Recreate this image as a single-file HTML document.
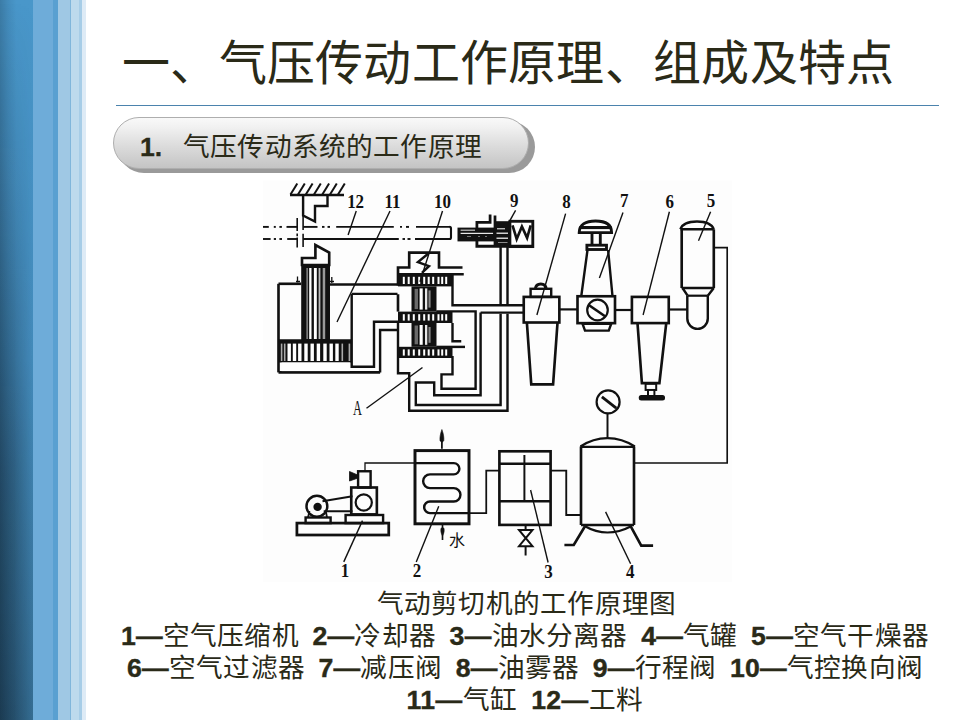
<!DOCTYPE html>
<html lang="zh-CN">
<head>
<meta charset="utf-8">
<style>
html,body{margin:0;padding:0;}
body{width:960px;height:720px;overflow:hidden;background:#fff;position:relative;font-family:"Liberation Sans",sans-serif;}
.s{position:absolute;top:0;height:720px;}
#s0{left:0;width:33px;background:linear-gradient(to bottom,#4997ca 0%,#4690c2 50%,#38739a 100%);}
#s0d{left:0;width:33px;background:linear-gradient(to right,rgba(5,15,25,.2) 0%,rgba(5,15,25,.08) 25%,rgba(5,15,25,0) 50%);}
#s0e{left:0;width:33px;background:linear-gradient(to right,rgba(5,15,25,.45) 0%,rgba(5,15,25,.35) 45%,rgba(5,15,25,.06) 100%);-webkit-mask-image:linear-gradient(to bottom,rgba(0,0,0,0),rgba(0,0,0,.3) 25%,rgba(0,0,0,.7) 50%,rgba(0,0,0,.9) 65%,#000);}
#s1{left:33px;width:20px;background:#6eacd9;}
#s2{left:53px;width:5px;background:#59a0d1;}
#s3{left:58px;width:12px;background:#9fc8e4;}
#s4{left:70px;width:1px;background:#80b6db;}
#s5{left:71px;width:8px;background:#bddaed;}
#s6{left:79px;width:3px;background:#a7cde7;}
#s7{left:82px;width:4px;background:#deebf6;}
#title{position:absolute;left:122px;top:34px;font-size:48px;line-height:60px;color:#2a2a18;white-space:nowrap;letter-spacing:0.27px;}
#rule{position:absolute;left:116px;top:105px;width:823px;height:1px;background:#4b83ad;}
#pillsh{position:absolute;left:118.3px;top:120.5px;width:416.4px;height:52.4px;border-radius:26.2px;background:#9a9a9a;}
#pill{position:absolute;left:113px;top:116.5px;width:414.4px;height:50.4px;border-radius:26.2px;border:1px solid #aeaeae;background:linear-gradient(to bottom,#f9f9f9 0%,#f0f0f0 20%,#dcdcdc 55%,#c4c4c4 100%);}
#ptxt{position:absolute;left:140px;top:129px;font-size:26.67px;line-height:36px;color:#2a2a18;white-space:nowrap;}
#ptxt2{position:absolute;left:183px;top:129px;letter-spacing:0.18px;font-size:26.67px;line-height:36px;color:#2a2a18;white-space:nowrap;}
#ptxt b{font-weight:bold;-webkit-text-stroke:0.3px #2a2a18;}
#diag{position:absolute;left:0;top:0;}
.cap{position:absolute;left:25px;width:1000px;text-align:center;white-space:nowrap;color:#2a2a18;font-size:26.67px;line-height:33px;letter-spacing:0.22px;}
.cap b{font-weight:bold;-webkit-text-stroke:0.4px #2a2a18;}
</style>
</head>
<body>
<div class="s" id="s0"></div><div class="s" id="s0d"></div><div class="s" id="s0e"></div>
<div class="s" id="s1"></div><div class="s" id="s2"></div><div class="s" id="s3"></div><div class="s" id="s4"></div><div class="s" id="s5"></div><div class="s" id="s6"></div><div class="s" id="s7"></div>
<div id="title">一、气压传动工作原理、组成及特点</div>
<div id="rule"></div>
<div id="pillsh"></div><div id="pill"></div>
<div id="ptxt"><b>1.</b></div><div id="ptxt2">气压传动系统的工作原理</div>
<svg id="diag" width="960" height="720" viewBox="0 0 960 720">
<g fill="none" stroke="#111" stroke-linejoin="miter" stroke-linecap="butt">
<rect x="263" y="180.5" width="469" height="401.5" fill="#fdfdfd" stroke="none"/>
<path d="M290,195H344" stroke-width="2.42" />
<path d="M290.5,194.5L297.3,183.5" stroke-width="2.0"/>
<path d="M298,194.5L304.8,183.5" stroke-width="2.0"/>
<path d="M305.8,194.5L312.6,183.5" stroke-width="2.0"/>
<path d="M314,194.5L320.8,183.5" stroke-width="2.0"/>
<path d="M322.3,194.5L329.1,183.5" stroke-width="2.0"/>
<path d="M330,194.5L336.8,183.5" stroke-width="2.0"/>
<path d="M338,194.5L344.8,183.5" stroke-width="2.0"/>
<path d="M303.1,195V215.5L315,221.5V206H327.5V195" stroke-width="2.42" />
<path d="M263,226.9L268.8,226.9" stroke-width="1.9"/>
<path d="M273.8,226.9L275.8,226.9" stroke-width="1.9"/>
<path d="M279.4,226.9L281.9,226.9" stroke-width="1.9"/>
<path d="M286.5,226.9L297,226.9" stroke-width="1.9"/>
<path d="M303.1,226.9L317.5,226.9" stroke-width="1.9"/>
<path d="M322,226.9L324.5,226.9" stroke-width="1.9"/>
<path d="M327.5,226.9L330,226.9" stroke-width="1.9"/>
<path d="M336.2,226.9L393.8,226.9" stroke-width="1.9"/>
<path d="M400,226.9L402,226.9" stroke-width="1.9"/>
<path d="M406,226.9L409,226.9" stroke-width="1.9"/>
<path d="M416,226.9L450,226.9" stroke-width="1.9"/>
<path d="M263,239L270.6,239" stroke-width="1.9"/>
<path d="M273.8,239L276,239" stroke-width="1.9"/>
<path d="M279.4,239L282,239" stroke-width="1.9"/>
<path d="M287.2,239L297.2,239" stroke-width="1.9"/>
<path d="M303.1,239L398.8,239" stroke-width="1.9"/>
<path d="M402.5,239L405,239" stroke-width="1.9"/>
<path d="M407.5,239L410.5,239" stroke-width="1.9"/>
<path d="M415,239L450,239" stroke-width="1.9"/>
<path d="M449.5,226.9Q451,226.9 451,228.4V237.5Q451,239 449.5,239" stroke-width="2.09" />
<path d="M297.2,218L297.2,231" stroke-width="1.6"/>
<path d="M297.2,233.4L297.2,236.2" stroke-width="1.6"/>
<path d="M297.2,237.5L297.2,247.5" stroke-width="1.6"/>
<path d="M303.1,216L303.1,230" stroke-width="1.6"/>
<path d="M303.1,233.8L303.1,246.9" stroke-width="1.6"/>
<path d="M302,265V258H315.4V245L329.2,252.5V265Z" stroke-width="2.64" />
<rect x="301.2" y="265" width="28.8" height="76.5" fill="#111" stroke="none"/>
<rect x="306.4" y="268" width="1.5" height="71" fill="#888" stroke="none"/>
<rect x="309.2" y="268" width="2.3" height="71" fill="#fff" stroke="none"/>
<rect x="313.9" y="268" width="2.9" height="71" fill="#fff" stroke="none"/>
<rect x="318.6" y="268" width="1.8" height="71" fill="#bbb" stroke="none"/>
<rect x="322.7" y="268" width="2.5" height="71" fill="#999" stroke="none"/>
<path d="M278.5,283.8H301.2" stroke-width="2.64" />
<path d="M278.5,283.8V372.4" stroke-width="2.64" />
<path d="M330,284.5H398" stroke-width="2.42" />
<path d="M351.7,293.9H397.5" stroke-width="2.42" />
<path d="M351.7,293.9V366.8H374V321.7H398" stroke-width="2.42" />
<path d="M380.1,372.4V330H398" stroke-width="2.42" />
<path d="M278.5,372.4H380.1" stroke-width="2.86" />
<path d="M297.5,276.5V282.5M300,281.5H296" stroke-width="1.3" />
<path d="M331.8,277V283M330,281.5H334" stroke-width="1.3" />
<path d="M278.5,340.7H352" stroke-width="2.86" />
<rect x="279" y="341.2" width="72.5" height="21.3" fill="#111" stroke="none"/>
<rect x="280.8" y="343.6" width="1.6" height="17.4" fill="#aaa" stroke="none"/>
<rect x="283.9" y="343.6" width="1.6" height="17.4" fill="#aaa" stroke="none"/>
<rect x="287.5" y="343.6" width="3.4" height="17.4" fill="#fff" stroke="none"/>
<rect x="292.8" y="343.6" width="3.4" height="17.4" fill="#fff" stroke="none"/>
<rect x="298.1" y="343.6" width="3.4" height="17.4" fill="#fff" stroke="none"/>
<rect x="304.3" y="343.6" width="3.4" height="17.4" fill="#fff" stroke="none"/>
<rect x="310.5" y="343.6" width="3.4" height="17.4" fill="#fff" stroke="none"/>
<rect x="316.7" y="343.6" width="3.4" height="17.4" fill="#fff" stroke="none"/>
<rect x="323.3" y="343.6" width="3.4" height="17.4" fill="#fff" stroke="none"/>
<rect x="329.5" y="343.6" width="3.4" height="17.4" fill="#fff" stroke="none"/>
<rect x="335.3" y="343.6" width="3.4" height="17.4" fill="#fff" stroke="none"/>
<rect x="341.5" y="343.6" width="1.6" height="17.4" fill="#aaa" stroke="none"/>
<rect x="348.59999999999997" y="343.6" width="1.6" height="17.4" fill="#aaa" stroke="none"/>
<rect x="281.5" y="362.5" width="68.5" height="8.6" fill="#fff" stroke="none"/>
<path d="M398,285.5V267.5H409.2V252.6H439V267.5H462.5" stroke-width="2.64" />
<path d="M398.75,274.25H463.75" stroke-width="2.42" />
<path d="M428.1,253.7L417.9,262.1L429,266.2L421.9,272.8" stroke-width="2.42" />
<rect x="398" y="274.2" width="54.5" height="12.199999999999989" fill="#111" stroke="none"/>
<rect x="402.8" y="276.8" width="2.0" height="7.199999999999989" fill="#fff" stroke="none"/>
<rect x="407.7" y="276.8" width="2.0" height="7.199999999999989" fill="#fff" stroke="none"/>
<rect x="412.8" y="276.8" width="2.0" height="7.199999999999989" fill="#fff" stroke="none"/>
<rect x="418.2" y="276.8" width="2.0" height="7.199999999999989" fill="#fff" stroke="none"/>
<rect x="423.2" y="276.8" width="2.0" height="7.199999999999989" fill="#fff" stroke="none"/>
<rect x="427.7" y="276.8" width="2.0" height="7.199999999999989" fill="#fff" stroke="none"/>
<rect x="432.2" y="276.8" width="2.0" height="7.199999999999989" fill="#fff" stroke="none"/>
<rect x="437.5" y="276.8" width="2.0" height="7.199999999999989" fill="#fff" stroke="none"/>
<rect x="441.2" y="276.8" width="2.0" height="7.199999999999989" fill="#fff" stroke="none"/>
<rect x="445.2" y="276.8" width="2.0" height="7.199999999999989" fill="#fff" stroke="none"/>
<rect x="398" y="311.6" width="54.5" height="11.399999999999977" fill="#111" stroke="none"/>
<rect x="402.8" y="314.20000000000005" width="2.0" height="6.399999999999977" fill="#fff" stroke="none"/>
<rect x="407.7" y="314.20000000000005" width="2.0" height="6.399999999999977" fill="#fff" stroke="none"/>
<rect x="412.8" y="314.20000000000005" width="2.0" height="6.399999999999977" fill="#fff" stroke="none"/>
<rect x="418.2" y="314.20000000000005" width="2.0" height="6.399999999999977" fill="#fff" stroke="none"/>
<rect x="423.2" y="314.20000000000005" width="2.0" height="6.399999999999977" fill="#fff" stroke="none"/>
<rect x="427.7" y="314.20000000000005" width="2.0" height="6.399999999999977" fill="#fff" stroke="none"/>
<rect x="432.2" y="314.20000000000005" width="2.0" height="6.399999999999977" fill="#fff" stroke="none"/>
<rect x="437.5" y="314.20000000000005" width="2.0" height="6.399999999999977" fill="#fff" stroke="none"/>
<rect x="441.2" y="314.20000000000005" width="2.0" height="6.399999999999977" fill="#fff" stroke="none"/>
<rect x="445.2" y="314.20000000000005" width="2.0" height="6.399999999999977" fill="#fff" stroke="none"/>
<rect x="398" y="346.8" width="54.5" height="11.199999999999989" fill="#111" stroke="none"/>
<rect x="402.8" y="349.40000000000003" width="2.0" height="6.199999999999989" fill="#fff" stroke="none"/>
<rect x="407.7" y="349.40000000000003" width="2.0" height="6.199999999999989" fill="#fff" stroke="none"/>
<rect x="412.8" y="349.40000000000003" width="2.0" height="6.199999999999989" fill="#fff" stroke="none"/>
<rect x="418.2" y="349.40000000000003" width="2.0" height="6.199999999999989" fill="#fff" stroke="none"/>
<rect x="423.2" y="349.40000000000003" width="2.0" height="6.199999999999989" fill="#fff" stroke="none"/>
<rect x="427.7" y="349.40000000000003" width="2.0" height="6.199999999999989" fill="#fff" stroke="none"/>
<rect x="432.2" y="349.40000000000003" width="2.0" height="6.199999999999989" fill="#fff" stroke="none"/>
<rect x="437.5" y="349.40000000000003" width="2.0" height="6.199999999999989" fill="#fff" stroke="none"/>
<rect x="441.2" y="349.40000000000003" width="2.0" height="6.199999999999989" fill="#fff" stroke="none"/>
<rect x="445.2" y="349.40000000000003" width="2.0" height="6.199999999999989" fill="#fff" stroke="none"/>
<rect x="411.5" y="286.4" width="25" height="25.200000000000045" fill="#111" stroke="none"/>
<rect x="414.6" y="288.9" width="3.4" height="20.200000000000045" fill="#6a6a6a" stroke="none"/>
<rect x="419.6" y="288.4" width="3.1" height="21.200000000000045" fill="#fff" stroke="none"/>
<rect x="425" y="288.4" width="2.3" height="21.200000000000045" fill="#e8e8e8" stroke="none"/>
<rect x="428.5" y="290.4" width="2.1" height="17.200000000000045" fill="#888" stroke="none"/>
<rect x="411.5" y="323" width="25" height="23.80000000000001" fill="#111" stroke="none"/>
<rect x="414.6" y="325.5" width="3.4" height="18.80000000000001" fill="#6a6a6a" stroke="none"/>
<rect x="419.6" y="325" width="3.1" height="19.80000000000001" fill="#fff" stroke="none"/>
<rect x="425" y="325" width="2.3" height="19.80000000000001" fill="#e8e8e8" stroke="none"/>
<rect x="428.5" y="327" width="2.1" height="15.800000000000011" fill="#888" stroke="none"/>
<path d="M398,294.25V311.6" stroke-width="2.64" />
<path d="M398,323V373.3H409.2V410.8H507.5V313.75" stroke-width="2.42" />
<path d="M452.5,274V305.2H523.75" stroke-width="2.42" />
<path d="M452.5,323V341.2H461.25" stroke-width="2.42" />
<path d="M436.25,346.9H465" stroke-width="2.42" />
<path d="M436.25,311.4H475.6V388.75H441.5V374.4H452.5V356" stroke-width="2.42" />
<path d="M480.6,312.6H523.75" stroke-width="2.42" />
<path d="M480.6,312.6V395.3H434.2V382.5H415.8V405H500.6V313.75" stroke-width="2.42" />
<rect x="457.5" y="227.6" width="37.3" height="13.8" fill="#111" stroke="none"/>
<rect x="460.6" y="229.7" width="14.4" height="0.9" fill="#fff" stroke="none"/>
<rect x="460.6" y="232.8" width="32.5" height="1.1" fill="#fff" stroke="none"/>
<rect x="467" y="236.4" width="4" height="0.6" fill="#bbb" stroke="none"/>
<rect x="478" y="236.4" width="2" height="0.6" fill="#bbb" stroke="none"/>
<rect x="485" y="236.4" width="2" height="0.6" fill="#bbb" stroke="none"/>
<path d="M476.9,228.5V222.3H490.1V214.5" stroke-width="2.75" />
<path d="M495,215.5V246" stroke-width="2.75" />
<path d="M476.9,240.5V246.2H532.8" stroke-width="2.86" />
<rect x="495" y="221.2" width="15" height="24.9" fill="#111" stroke="none"/>
<rect x="497" y="228.3" width="8" height="1.0" fill="#fff" stroke="none"/>
<rect x="496.5" y="232.6" width="11.5" height="1.2" fill="#fff" stroke="none"/>
<rect x="496.5" y="237.6" width="11.5" height="1.2" fill="#fff" stroke="none"/>
<rect x="498" y="242.2" width="9.5" height="0.8" fill="#aaa" stroke="none"/>
<rect x="509.9" y="221.3" width="22.9" height="25.3" stroke-width="2.86" fill="none"/>
<path d="M512.5,225.4L516.7,239L521.9,226.5L527.1,237.9L530.7,225.4" stroke-width="2.64" />
<path d="M500.6,246V305.2M507.5,246V305.2" stroke-width="2.42" />
<path d="M535.3,288.8C535.8,284.6 538,284 540.8,284C543.6,284 545.8,284.6 546.3,288.8" stroke-width="2.86" />
<rect x="530.6" y="288.8" width="20.6" height="8.1" stroke-width="2.42" fill="none"/>
<rect x="523.75" y="296.9" width="35.6" height="25.6" stroke-width="2.64" fill="none"/>
<path d="M526.9,322.8L531.25,384.4H553.1L557.5,322.8" stroke-width="2.64" />
<path d="M559.4,309.4H577.5" stroke-width="2.2" />
<path d="M579.2,232.6C579.2,224.5 586,221 595.5,221C605,221 611.6,224.5 611.6,232.6Z" stroke-width="2.86" />
<rect x="579.5" y="226" width="32" height="3.1" fill="#111" stroke="none"/>
<path d="M592,233V244.3M600.3,233V244.3" stroke-width="2.86" />
<rect x="586.9" y="245.2" width="19.6" height="4.3" stroke-width="2.86" fill="none"/>
<path d="M587.5,250L581.25,296.25M608.1,250L612.5,296.25" stroke-width="2.42" />
<rect x="577.5" y="296.25" width="37.5" height="26.9" stroke-width="2.64" fill="none"/>
<circle cx="597.5" cy="310" r="10.3" stroke-width="2.2"/>
<path d="M588.75,305L605,316.25" stroke-width="2.64" />
<path d="M582.5,323.75H611.25L608.75,330.6H585Z" stroke-width="2.42" />
<path d="M615,310H631.9" stroke-width="2.2" />
<rect x="631.9" y="296.9" width="36.85" height="26.2" stroke-width="2.64" fill="none"/>
<path d="M637.5,323.2L641.9,383.1H659.4L666.25,323.2" stroke-width="2.64" />
<rect x="645.6" y="383.75" width="10.6" height="6.2" stroke-width="1.98" fill="none"/>
<path d="M648,390V395M654.4,390V395" stroke-width="1.98" />
<rect x="638.75" y="395" width="26.25" height="5.6" rx="2.5" fill="#111" stroke="none"/>
<path d="M668.75,309.5H687" stroke-width="2.2" />
<path d="M680.5,229.25Q683,221.5 697,221.5Q711,221.5 713.6,229.25" stroke-width="2.64" />
<path d="M680.5,229.25H713.6" stroke-width="2.42" />
<path d="M681.7,229.25V288M713.8,229.25V288" stroke-width="2.64" />
<path d="M681.7,288H713.8" stroke-width="2.42" />
<path d="M682.5,288L687.6,295.7M713.8,288L707.8,295.7" stroke-width="2.42" />
<path d="M687.6,295.7H707.8" stroke-width="2.2" />
<path d="M687.3,295.7V318.6A10.25,10.25 0 0 0 707.8,318.6V295.7" stroke-width="2.42" />
<path d="M713.8,247.6H727.2V463H634.6" stroke-width="1.65" />
<circle cx="608.1" cy="401.9" r="11.5" stroke-width="2.2"/>
<path d="M601.9,396.9L616.25,408.1" stroke-width="2.86" />
<path d="M607.5,413.4V438.1" stroke-width="1.98" />
<path d="M580.5,446.5Q593,438.1 607.5,438.1Q622,438.1 634.8,446.5" stroke-width="2.42" />
<path d="M580.5,446.9H634.8" stroke-width="2.42" />
<path d="M581,446.5V525M634,446.5V525" stroke-width="2.64" />
<path d="M581,525H634" stroke-width="2.42" />
<path d="M585,526.2Q596,532.5 607.5,532.5Q619,532.5 631.2,526.2" stroke-width="2.2" />
<path d="M585,526.2L573.75,545H564.4M630.6,526.2L641.25,545.6H653.1" stroke-width="2.64" />
<rect x="499.4" y="451.3" width="51.2" height="73.6" stroke-width="2.64" fill="none"/>
<path d="M499.4,463.75H550.6M499.4,501.25H550.6" stroke-width="2.42" />
<path d="M524.4,455V500" stroke-width="1.98" />
<path d="M550.6,470.6H566.25V515H580.6" stroke-width="1.87" />
<path d="M519,530H532.5L525.7,538.1ZM519,546.2H532.5L525.7,538.1Z" stroke-width="1.98" />
<path d="M525.6,525V530M525.6,546.2V555.6" stroke-width="1.98" />
<rect x="415" y="450.6" width="54" height="73.2" stroke-width="2.97" fill="none"/>
<path d="M441.9,448.75V434" stroke-width="1.76" />
<path d="M441.9,429.5C440.2,434 439.7,438 440,440.5Q441.9,444 443.8,440.5C444.1,438 443.6,434 441.9,429.5Z" stroke-width="0.6" fill="#111"/>
<path d="M415,463.1H453.75A5.65,5.65 0 0 1 453.75,474.4H430A6.85,6.85 0 0 0 430,488.1H453.75A6.7,6.7 0 0 1 453.75,501.5H430A5.8,5.8 0 0 0 430,513.1H469" stroke-width="2.42" />
<path d="M469,513.1H486.25V470.6H499.4" stroke-width="1.76" />
<path d="M442.5,525V540" stroke-width="1.65" />
<path d="M442.5,536C440.8,533 440.6,530.5 441,528.5Q442.5,526.5 444,528.5C444.4,530.5 444.2,533 442.5,536Z" stroke-width="0.6" fill="#111"/>
<rect x="296.9" y="523.1" width="91.85" height="11.9" stroke-width="2.75" fill="none"/>
<rect x="305.6" y="517.5" width="25" height="5.6" stroke-width="2.42" fill="none"/>
<rect x="345.6" y="515" width="37.5" height="8.1" stroke-width="2.42" fill="none"/>
<circle cx="316.9" cy="506.25" r="10.4" stroke-width="2.5"/>
<circle cx="317.6" cy="506.9" r="4.2" fill="#111" stroke="none"/>
<path d="M322.5,501.2L352.5,496.2M323.7,511.3H352.5" stroke-width="1.98" />
<rect x="351.25" y="487.5" width="25.6" height="26.9" stroke-width="2.64" fill="none"/>
<circle cx="363.75" cy="502.5" r="8.1" stroke-width="2.2"/>
<rect x="358.1" y="471.25" width="12.5" height="16.25" stroke-width="2.42" fill="none"/>
<path d="M349.5,471.5L358.1,475.2V478L349.5,481Z" stroke-width="0.8" fill="#111"/>
<path d="M365,471.25V463H415" stroke-width="1.3" />
<path d="M308,517.5L309.5,511M327,517.5L326,512" stroke-width="1.76" />
<path d="M356.25,211.1L348.1,234.9" stroke-width="1.4"/>
<path d="M390,211L337,322" stroke-width="1.4"/>
<path d="M442.5,211L420,281.75" stroke-width="1.4"/>
<path d="M515.6,210.3L508.9,222.3" stroke-width="1.4"/>
<path d="M565.6,213.6L536.9,315" stroke-width="1.4"/>
<path d="M623,212.4L599.4,278.1" stroke-width="1.4"/>
<path d="M669.4,211.75L643.1,315" stroke-width="1.4"/>
<path d="M710.6,211.75L698.5,240.7" stroke-width="1.4"/>
<path d="M366.5,408.3L422.5,367.5" stroke-width="1.4"/>
<path d="M343.75,561.9L362.5,520.6" stroke-width="1.4"/>
<path d="M416.25,561.9L438.75,506.25" stroke-width="1.4"/>
<path d="M548.1,562.5L530.6,490" stroke-width="1.4"/>
<path d="M630.6,563.75L605.6,511.9" stroke-width="1.4"/>
<text fill="#111" stroke="none" font-family="Liberation Serif,serif" transform="translate(355.6,208) scale(0.87,1)" font-size="19.5" text-anchor="middle" font-weight="bold">12</text>
<text fill="#111" stroke="none" font-family="Liberation Serif,serif" transform="translate(392.5,208) scale(0.87,1)" font-size="19.5" text-anchor="middle" font-weight="bold">11</text>
<text fill="#111" stroke="none" font-family="Liberation Serif,serif" transform="translate(442.5,208) scale(0.87,1)" font-size="19.5" text-anchor="middle" font-weight="bold">10</text>
<text fill="#111" stroke="none" font-family="Liberation Serif,serif" transform="translate(514.2,207) scale(0.87,1)" font-size="19.5" text-anchor="middle" font-weight="bold">9</text>
<text fill="#111" stroke="none" font-family="Liberation Serif,serif" transform="translate(566.5,208) scale(0.87,1)" font-size="19.5" text-anchor="middle" font-weight="bold">8</text>
<text fill="#111" stroke="none" font-family="Liberation Serif,serif" transform="translate(624.3,207.4) scale(0.87,1)" font-size="19.5" text-anchor="middle" font-weight="bold">7</text>
<text fill="#111" stroke="none" font-family="Liberation Serif,serif" transform="translate(669.7,208) scale(0.87,1)" font-size="19.5" text-anchor="middle" font-weight="bold">6</text>
<text fill="#111" stroke="none" font-family="Liberation Serif,serif" transform="translate(711,207.4) scale(0.87,1)" font-size="19.5" text-anchor="middle" font-weight="bold">5</text>
<text fill="#111" stroke="none" font-family="Liberation Serif,serif" transform="translate(345,577) scale(0.87,1)" font-size="19.5" text-anchor="middle" font-weight="bold">1</text>
<text fill="#111" stroke="none" font-family="Liberation Serif,serif" transform="translate(416.9,577) scale(0.87,1)" font-size="19.5" text-anchor="middle" font-weight="bold">2</text>
<text fill="#111" stroke="none" font-family="Liberation Serif,serif" transform="translate(548.5,578) scale(0.87,1)" font-size="19.5" text-anchor="middle" font-weight="bold">3</text>
<text fill="#111" stroke="none" font-family="Liberation Serif,serif" transform="translate(630.3,578) scale(0.87,1)" font-size="19.5" text-anchor="middle" font-weight="bold">4</text>
<text fill="#111" stroke="none" font-family="Liberation Serif,serif" transform="translate(357.5,415.2) scale(0.62,1)" font-size="20" text-anchor="middle" font-weight="normal">A</text>
<text fill="#111" stroke="none" font-family="Liberation Serif,serif" x="449" y="546" font-size="16" font-weight="normal">水</text>
</g>
</svg>
<div class="cap" style="top:588px;left:26.5px;">气动剪切机的工作原理图</div>
<div class="cap" style="top:620px;"><b>1—</b>空气压缩机&ensp;<b>2—</b>冷却器&ensp;<b>3—</b>油水分离器&ensp;<b>4—</b>气罐&ensp;<b>5—</b>空气干燥器</div>
<div class="cap" style="top:652px;"><b>6—</b>空气过滤器&ensp;<b>7—</b>减压阀&ensp;<b>8—</b>油雾器&ensp;<b>9—</b>行程阀&ensp;<b>10—</b>气控换向阀</div>
<div class="cap" style="top:684px;letter-spacing:0.4px;"><b>11—</b>气缸&ensp;<b>12—</b>工料</div>
</body>
</html>
